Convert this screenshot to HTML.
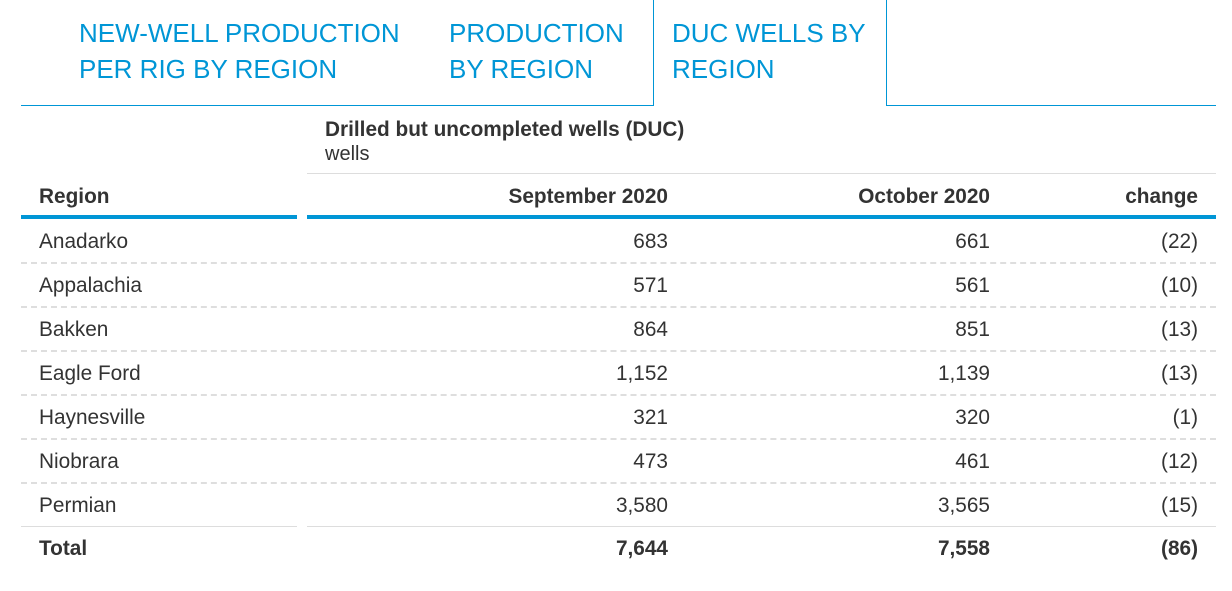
<!DOCTYPE html>
<html><head><meta charset="utf-8"><style>
body{margin:0;width:1232px;height:591px;background:#fff;font-family:"Liberation Sans",Arial,sans-serif;color:#333;position:relative;overflow:hidden}
.a{position:absolute}
.tab{position:absolute;top:15px;font-size:26px;line-height:36px;color:#0096d6}
.t{position:absolute;font-size:20.8px;line-height:24px;white-space:nowrap}
.r{text-align:right}
.b{font-weight:bold}
.dash{position:absolute;height:0;border-top:2px dashed #dedede}
</style></head><body>
<div class="a" style="left:21px;top:105px;width:632px;height:1px;background:#0096d6"></div>
<div class="a" style="left:886px;top:105px;width:330px;height:1px;background:#0096d6"></div>
<div class="a" style="left:653px;top:0;width:232px;height:106px;border-left:1px solid #0096d6;border-right:1px solid #0096d6"></div>
<div class="tab" style="left:79px">NEW-WELL PRODUCTION<br>PER RIG BY REGION</div>
<div class="tab" style="left:449px">PRODUCTION<br>BY REGION</div>
<div class="tab" style="left:672px">DUC WELLS BY<br>REGION</div>

<div class="t b" style="left:325px;top:118px;font-size:20.8px">Drilled but uncompleted wells (DUC)</div>
<div class="t" style="left:325px;top:142px;font-size:20px">wells</div>
<div class="a" style="left:307px;top:173px;width:909px;height:1px;background:#ddd"></div>

<div class="t b" style="left:39px;top:185px">Region</div>
<div class="t b r" style="right:564px;top:185px">September 2020</div>
<div class="t b r" style="right:242px;top:185px">October 2020</div>
<div class="t b r" style="right:34px;top:185px">change</div>
<div class="a" style="left:21px;top:215px;width:276px;height:4px;background:#0096d6"></div>
<div class="a" style="left:307px;top:215px;width:909px;height:4px;background:#0096d6"></div>

<div id="rows"></div>
<script>
const regions=["Anadarko","Appalachia","Bakken","Eagle Ford","Haynesville","Niobrara","Permian"];
const sep=["683","571","864","1,152","321","473","3,580"];
const oct=["661","561","851","1,139","320","461","3,565"];
const chg=["(22)","(10)","(13)","(13)","(1)","(12)","(15)"];
const total=["Total","7,644","7,558","(86)"];
const root=document.getElementById('rows');
function cell(txt,style,cls,name){
  const d=document.createElement('div');
  d.className='t '+cls;d.style.cssText=style;d.textContent=txt;
  
  
  root.appendChild(d);
}
regions.forEach((r,i)=>{
  const y=230+i*44;
  cell(r,'left:39px;top:'+y+'px','', 'region-'+i);
  cell(sep[i],'right:564px;top:'+y+'px','r','september-value-'+i);
  cell(oct[i],'right:242px;top:'+y+'px','r','october-value-'+i);
  cell(chg[i],'right:34px;top:'+y+'px','r','change-value-'+i);
  if(i<regions.length-1){
    const s=document.createElement('div');
    s.className='dash';s.style.cssText='left:21px;top:'+(262+i*44)+'px;width:1195px';
    
    
    root.appendChild(s);
  }
});
['left:21px;width:276px','left:307px;width:909px'].forEach(st=>{
  const s=document.createElement('div');
  s.className='a';s.style.cssText=st+';top:526px;height:1px;background:#ddd';
  
  
  root.appendChild(s);
});
cell(total[0],'left:39px;top:537px','b','total-label');
cell(total[1],'right:564px;top:537px','b r','total-september');
cell(total[2],'right:242px;top:537px','b r','total-october');
cell(total[3],'right:34px;top:537px','b r','total-change');
</script>
</body></html>
